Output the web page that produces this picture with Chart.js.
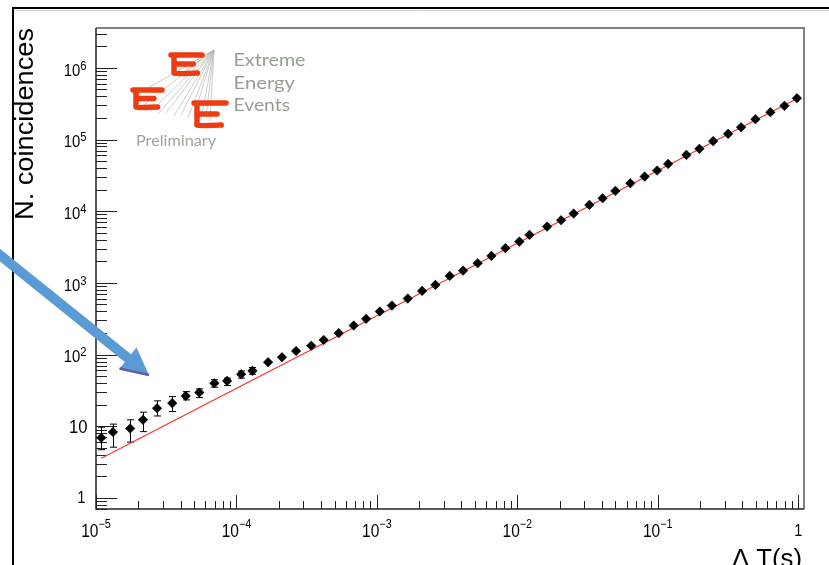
<!DOCTYPE html>
<html>
<head>
<meta charset="utf-8">
<title>N. coincidences vs Δ T</title>
<script src="https://cdn.jsdelivr.net/npm/chart.js@4.4.0/dist/chart.umd.min.js"></script>
<style>
  html, body { margin: 0; padding: 0; background: #fff; overflow: hidden; }
  canvas { display: block; }
</style>
</head>
<body>
<canvas id="coincChart" width="829" height="565"></canvas>
<script>
// time window (s) of each point
const deltaT = [1.09e-5, 1.32e-5, 1.75e-5, 2.16e-5, 2.72e-5, 3.49e-5, 4.35e-5, 5.44e-5, 6.96e-5, 8.58e-5,
  1.08e-4, 1.30e-4, 1.68e-4, 2.11e-4, 2.66e-4, 3.41e-4, 4.18e-4, 5.35e-4, 6.84e-4, 8.38e-4,
  1.05e-3, 1.28e-3, 1.66e-3, 2.10e-3, 2.61e-3, 3.30e-3, 4.11e-3, 5.22e-3, 6.54e-3, 8.23e-3,
  1.035e-2, 1.22e-2, 1.63e-2, 2.05e-2, 2.52e-2, 3.26e-2, 4.05e-2, 4.99e-2, 6.38e-2, 8.07e-2,
  9.90e-2, 0.1186, 0.160, 0.198, 0.248, 0.317, 0.392, 0.496, 0.634, 0.798, 0.98];
// number of coincidences
const coincidences = [6.9, 8.3, 9.3, 12.3, 17.8, 21.0, 26.5, 29.5, 39.8, 42.9,
  53.2, 59.2, 78.2, 91.8, 112, 133, 160, 199, 254, 315,
  398, 482, 604, 773, 937, 1252, 1484, 1882, 2381, 3050,
  3770, 4674, 6100, 7495, 9270, 12250, 15200, 19220, 24610, 30420,
  36900, 45700, 61100, 74100, 94900, 120000, 148700, 192300, 240900, 295100, 377600];
// error bar ends, only where they show outside the markers (first points)
const errLow = [4.7, 5.1, 6.0, 8.4, 13.9, 16.0, 23.3, 25.1, 35, 37, 46.9, 53];
const errHigh = [9.7, 10.7, 12.3, 15.7, 22.6, 25.9, 30.4, 33.2, 44.5, 46.9, 59, 66];

// red fit line end points
const fitT = [1.09e-5, 1.0];
const fitN = [3.58, 3.8e5];

// axis labels
const xMajor = [1e-5, 1e-4, 1e-3, 1e-2, 1e-1, 1];
const xBase = ['10', '10', '10', '10', '10', '1'];
const xExp = ['\u22125', '\u22124', '\u22123', '\u22122', '\u22121', ''];
const yMajor = [1, 10, 100, 1e3, 1e4, 1e5, 1e6];
const yBase = ['1', '10', '10', '10', '10', '10', '10'];
const yExp = ['', '', '2', '3', '4', '5', '6'];

const FONT = '"Liberation Sans", Arial, Helvetica, sans-serif';

function logTicks(min, max) {
  const out = [];
  for (let e = Math.floor(Math.log10(min)); e <= Math.ceil(Math.log10(max)); e++) {
    for (let m = 1; m < 10; m++) {
      const v = m * Math.pow(10, e);
      if (v >= min * 0.999 && v <= max * 1.001) out.push({ v: v, major: m === 1 });
    }
  }
  return out;
}

function txt(ctx, s, x, y, size, sx, align, font) {
  ctx.save();
  ctx.font = size + 'px ' + (font || FONT);
  ctx.textAlign = align;
  ctx.textBaseline = 'alphabetic';
  ctx.translate(x, y);
  ctx.scale(sx, 1);
  ctx.fillText(s, 0, 0);
  ctx.restore();
}

function textWidth(ctx, s, size, font) {
  ctx.save();
  ctx.font = size + 'px ' + (font || FONT);
  const w = ctx.measureText(s).width;
  ctx.restore();
  return w;
}

// text squeezed/stretched to a given width
function fitText(ctx, s, x, y, size, width, align, font, color) {
  const w = textWidth(ctx, s, size, font);
  ctx.save();
  ctx.fillStyle = color || '#000';
  txt(ctx, s, x, y, size, width / w, align, font);
  ctx.restore();
}

function drawE(ctx, x, y, w, h) {
  ctx.beginPath();
  ctx.moveTo(x, y); ctx.lineTo(x + w, y);
  ctx.moveTo(x + 3, y); ctx.lineTo(x + 3, y + h);
  ctx.moveTo(x + 3, y + h * 0.5); ctx.lineTo(x + w * 0.72, y + h * 0.5);
  ctx.moveTo(x + 3, y + h); ctx.quadraticCurveTo(x + 4, y + h + 1, x + w * 0.85, y + h);
  ctx.stroke();
}

const rootStyle = {
  id: 'rootStyle',
  beforeDatasetsDraw(chart) {
    const ctx = chart.ctx, a = chart.chartArea;
    const xs = chart.scales.x, ys = chart.scales.y;
    ctx.save();

    // outer frame of the slide picture
    ctx.strokeStyle = '#000'; ctx.lineWidth = 2;
    ctx.beginPath(); ctx.moveTo(13, 570); ctx.lineTo(13, 8); ctx.lineTo(835, 8); ctx.stroke();
    ctx.strokeStyle = '#cfcfcf'; ctx.lineWidth = 1;
    ctx.beginPath(); ctx.moveTo(15, 10.5); ctx.lineTo(835, 10.5); ctx.stroke();

    // pad frame
    ctx.strokeStyle = '#808080'; ctx.lineWidth = 2;
    ctx.beginPath(); ctx.moveTo(a.left, a.top); ctx.lineTo(a.right, a.top); ctx.lineTo(a.right, a.bottom); ctx.stroke();
    ctx.strokeStyle = '#222'; ctx.lineWidth = 1.5;
    ctx.beginPath(); ctx.moveTo(a.left, a.top); ctx.lineTo(a.left, a.bottom); ctx.lineTo(a.right, a.bottom); ctx.stroke();

    // ticks, pointing inwards
    ctx.lineWidth = 1;
    ctx.beginPath();
    logTicks(ys.min, ys.max).forEach(t => {
      const py = Math.round(ys.getPixelForValue(t.v)) + 0.5;
      ctx.moveTo(a.left, py); ctx.lineTo(a.left + (t.major ? 21 : 11), py);
    });
    logTicks(xs.min, xs.max).forEach(t => {
      const px = Math.round(xs.getPixelForValue(t.v)) + 0.5;
      ctx.moveTo(px, a.bottom); ctx.lineTo(px, a.bottom - (t.major ? 14 : 8));
    });
    ctx.stroke();

    // tick labels
    ctx.fillStyle = '#000';
    xMajor.forEach((v, i) => {
      const px = xs.getPixelForValue(v);
      if (!xExp[i]) { txt(ctx, xBase[i], px, 535.5, 16, 0.9, 'center'); return; }
      const wb = textWidth(ctx, xBase[i], 18) * 0.86;
      const we = textWidth(ctx, xExp[i], 12) * 0.9;
      const x0 = px - (wb + we) / 2;
      txt(ctx, xBase[i], x0, 537, 18, 0.86, 'left');
      txt(ctx, xExp[i], x0 + wb, 528, 12, 0.9, 'left');
    });
    yMajor.forEach((v, i) => {
      const py = ys.getPixelForValue(v);
      if (!yExp[i]) {
        if (yBase[i] === '1') txt(ctx, '1', 85.5, py + 5, 16, 0.92, 'right');
        else txt(ctx, yBase[i], 87.5, py + 7, 18.5, 0.9, 'right');
        return;
      }
      const we = textWidth(ctx, yExp[i], 12.5) * 0.9;
      txt(ctx, yExp[i], 86.5, py + 1.8, 12.5, 0.9, 'right');
      txt(ctx, yBase[i], 86.5 - we, py + 7.8, 16, 0.93, 'right');
    });

    // axis titles
    const yt = 'N. coincidences';
    const wy = textWidth(ctx, yt, 25);
    ctx.save();
    ctx.translate(33, 28);
    ctx.rotate(-Math.PI / 2);
    ctx.scale(192 / wy, 1);
    ctx.font = '25px ' + FONT;
    ctx.textAlign = 'right';
    ctx.fillText(yt, 0, 0);
    ctx.restore();
    fitText(ctx, '\u0394 T(s)', 802, 567, 26, 70, 'right');

    // EEE logo
    ctx.strokeStyle = '#b4b8b2'; ctx.lineWidth = 0.7;
    const apex = [214, 50];
    const ends = [[136, 95], [140, 108], [150, 112], [158, 114], [166, 113], [174, 116], [181, 115],
                  [188, 118], [195, 112], [201, 120], [206, 116], [210, 121], [173, 74], [186, 70]];
    ctx.beginPath();
    ends.forEach(p => { ctx.moveTo(apex[0], apex[1]); ctx.lineTo(p[0], p[1]); });
    ctx.stroke();
    ctx.strokeStyle = '#ee3b12'; ctx.lineWidth = 5.5; ctx.lineCap = 'round';
    drawE(ctx, 171, 55, 31, 18);
    drawE(ctx, 133, 90, 29, 17);
    drawE(ctx, 194, 103, 32, 22);
    const logoFont = 'Lato, "DejaVu Sans", sans-serif';
    fitText(ctx, 'Extreme', 233.5, 66, 17, 72, 'left', logoFont, '#949f91');
    fitText(ctx, 'Energy', 233.5, 88.5, 17, 61.5, 'left', logoFont, '#949f91');
    fitText(ctx, 'Events', 233.5, 111, 17, 56.5, 'left', logoFont, '#949f91');
    fitText(ctx, 'Preliminary', 136, 145.5, 14.5, 80, 'left', logoFont, '#9ca699');

    // error bars
    ctx.strokeStyle = '#000'; ctx.lineWidth = 1; ctx.lineCap = 'butt';
    ctx.beginPath();
    errLow.forEach((lo, i) => {
      const px = Math.round(xs.getPixelForValue(deltaT[i])) + 0.5;
      const p1 = ys.getPixelForValue(lo), p2 = ys.getPixelForValue(errHigh[i]);
      ctx.moveTo(px, p1); ctx.lineTo(px, p2);
      ctx.moveTo(px - 3.5, p1); ctx.lineTo(px + 3.5, p1);
      ctx.moveTo(px - 3.5, p2); ctx.lineTo(px + 3.5, p2);
    });
    ctx.stroke();
    ctx.restore();
  },
  afterDraw(chart) {
    // blue annotation arrow
    const ctx = chart.ctx;
    const tip = { x: 149, y: 375 }, dir = { x: 0.779, y: 0.627 }, per = { x: -0.627, y: 0.779 };
    const headLen = 27, headHalf = 13.5, shaftHalf = 5;
    const base = { x: tip.x - headLen * dir.x, y: tip.y - headLen * dir.y };
    const start = { x: tip.x - 210 * dir.x, y: tip.y - 210 * dir.y };
    ctx.save();
    ctx.fillStyle = '#5b9bd5';
    ctx.beginPath();
    ctx.moveTo(start.x + shaftHalf * per.x, start.y + shaftHalf * per.y);
    ctx.lineTo(base.x + shaftHalf * per.x, base.y + shaftHalf * per.y);
    ctx.lineTo(base.x + headHalf * per.x, base.y + headHalf * per.y);
    ctx.lineTo(tip.x, tip.y);
    ctx.lineTo(base.x - headHalf * per.x, base.y - headHalf * per.y);
    ctx.lineTo(base.x - shaftHalf * per.x, base.y - shaftHalf * per.y);
    ctx.lineTo(start.x - shaftHalf * per.x, start.y - shaftHalf * per.y);
    ctx.closePath();
    ctx.fill();
    ctx.strokeStyle = '#5c5fa6'; ctx.lineWidth = 2.5;
    ctx.beginPath();
    ctx.moveTo(base.x + headHalf * per.x, base.y + headHalf * per.y);
    ctx.lineTo(tip.x, tip.y);
    ctx.stroke();
    ctx.restore();
  }
};

const points = deltaT.map((t, i) => ({ x: t, y: coincidences[i] }));
const fitLine = fitT.map((t, i) => ({ x: t, y: fitN[i] }));

new Chart(document.getElementById('coincChart').getContext('2d'), {
  type: 'scatter',
  data: {
    datasets: [{
      label: 'coincidences',
      data: points,
      pointStyle: 'rectRot',
      pointRadius: 4.8,
      backgroundColor: '#000',
      borderColor: '#000',
      borderWidth: 0.5
    }, {
      label: 'fit',
      data: fitLine,
      showLine: true,
      pointRadius: 0,
      borderColor: '#ff3030',
      borderWidth: 1.2
    }]
  },
  options: {
    responsive: false,
    animation: false,
    layout: { padding: { left: 96, top: 28, right: 25, bottom: 56 } },
    scales: {
      x: { type: 'logarithmic', min: 1e-5, max: 1.1, display: false },
      y: { type: 'logarithmic', min: 0.7, max: 3.6e6, display: false }
    },
    plugins: { legend: { display: false }, tooltip: { enabled: false } }
  },
  plugins: [rootStyle]
});
</script>
</body>
</html>
